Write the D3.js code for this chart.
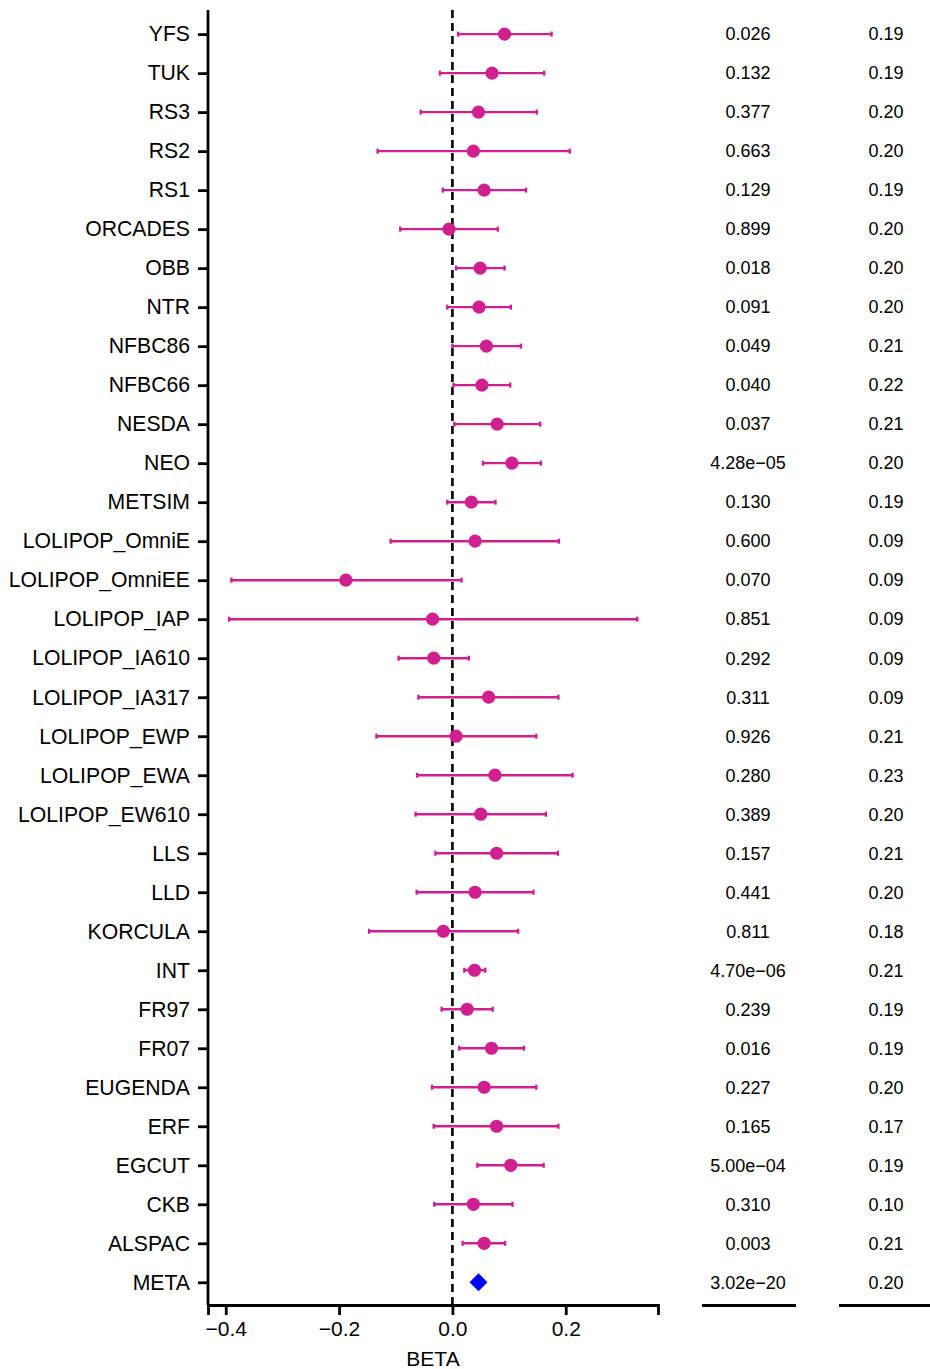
<!DOCTYPE html>
<html>
<head>
<meta charset="utf-8">
<script src="https://cdn.jsdelivr.net/npm/d3@7"></script>
<style>
  html, body { margin: 0; padding: 0; background: #fff; }
  svg { display: block; font-family: "Liberation Sans", Arial, sans-serif; }
</style>
</head>
<body>
<svg id="chart" width="930" height="1369"></svg>
<script>
const studies = ["YFS","TUK","RS3","RS2","RS1","ORCADES","OBB","NTR","NFBC86","NFBC66","NESDA","NEO","METSIM",
  "LOLIPOP_OmniE","LOLIPOP_OmniEE","LOLIPOP_IAP","LOLIPOP_IA610","LOLIPOP_IA317","LOLIPOP_EWP","LOLIPOP_EWA",
  "LOLIPOP_EW610","LLS","LLD","KORCULA","INT","FR97","FR07","EUGENDA","ERF","EGCUT","CKB","ALSPAC","META"];
const beta  = [0.092,0.070,0.046,0.037,0.056,-0.006,0.049,0.047,0.060,0.052,0.079,0.105,0.0335,
  0.040,-0.188,-0.035,-0.033,0.064,0.0065,0.075,
  0.050,0.078,0.040,-0.016,0.039,0.026,0.069,0.056,0.078,0.103,0.037,0.056,0.046];
const lower = [0.010,-0.022,-0.056,-0.132,-0.017,-0.092,0.0065,-0.009,0.000,0.002,0.0035,0.054,-0.009,
  -0.109,-0.390,-0.394,-0.095,-0.060,-0.134,-0.062,
  -0.065,-0.030,-0.063,-0.147,0.021,-0.019,0.012,-0.036,-0.033,0.044,-0.032,0.018,null];
const upper = [0.175,0.162,0.149,0.207,0.130,0.080,0.092,0.103,0.121,0.102,0.155,0.156,0.076,
  0.188,0.016,0.326,0.029,0.187,0.148,0.212,
  0.165,0.186,0.143,0.116,0.058,0.071,0.126,0.148,0.187,0.161,0.106,0.093,null];
const pvals = ["0.026","0.132","0.377","0.663","0.129","0.899","0.018","0.091","0.049","0.040","0.037","4.28e\u221205","0.130",
  "0.600","0.070","0.851","0.292","0.311","0.926","0.280",
  "0.389","0.157","0.441","0.811","4.70e\u221206","0.239","0.016","0.227","0.165","5.00e\u221204","0.310","0.003","3.02e\u221220"];
const col2 = ["0.19","0.19","0.20","0.20","0.19","0.20","0.20","0.20","0.21","0.22","0.21","0.20","0.19",
  "0.09","0.09","0.09","0.09","0.09","0.21","0.23",
  "0.20","0.21","0.20","0.18","0.21","0.19","0.19","0.20","0.17","0.19","0.10","0.21","0.20"];
const xTicks = [-0.4, -0.2, 0.0, 0.2];

(function () {
const rows = studies.map((s, i) => ({ s, b: beta[i], lo: lower[i], hi: upper[i], p: pvals[i], c: col2[i], meta: s === "META" }));

const svg = d3.select("#chart");
const pLeft = 208, pRight = 658, pTop = 10, pBottom = 1305;
const magenta = "#D02090";
const font = "Liberation Sans, Arial, sans-serif";

const x = d3.scaleLinear().domain([-0.4313, 0.3628]).range([pLeft, pRight]);
const y = d3.scalePoint().domain(studies).range([pTop + 0.7, pBottom + 0.7]).padding(0.6);

// x axis
const gx = svg.append("g").attr("transform", `translate(0,${pBottom})`)
  .call(d3.axisBottom(x).tickValues(xTicks).tickFormat(d3.format(".1f")).tickSizeOuter(0).tickSize(10).tickPadding(6));
gx.select(".domain").attr("stroke", "#000").attr("stroke-width", 2.8);
gx.selectAll(".tick line").attr("stroke", "#000").attr("stroke-width", 2.8);
gx.selectAll(".tick text").attr("font-size", 21).attr("fill", "#000").attr("font-family", font);

// y axis
const gy = svg.append("g").attr("transform", `translate(${pLeft},0)`)
  .call(d3.axisLeft(y).tickSizeOuter(0).tickSize(10).tickPadding(8));
gy.select(".domain").attr("d", `M0,${pTop}V${pBottom}`).attr("stroke", "#000").attr("stroke-width", 2.8);
gy.selectAll(".tick line").attr("stroke", "#000").attr("stroke-width", 2.8);
gy.selectAll(".tick text").attr("font-size", 21.2).attr("fill", "#000").attr("font-family", font);

// zero reference line
svg.append("line")
  .attr("x1", x(0)).attr("x2", x(0)).attr("y1", pTop).attr("y2", pBottom)
  .attr("stroke", "#000").attr("stroke-width", 2.6).attr("stroke-dasharray", "8,5");

// error bars
const studyRows = rows.filter(r => !r.meta);
const eb = svg.append("g");
eb.selectAll("line.bar").data(studyRows).join("line").attr("class", "bar")
  .attr("x1", d => x(d.lo)).attr("x2", d => x(d.hi))
  .attr("y1", d => y(d.s)).attr("y2", d => y(d.s))
  .attr("stroke", magenta).attr("stroke-width", 2.4);
eb.selectAll("line.capl").data(studyRows).join("line").attr("class", "capl")
  .attr("x1", d => x(d.lo)).attr("x2", d => x(d.lo))
  .attr("y1", d => y(d.s) - 2.5).attr("y2", d => y(d.s) + 2.5)
  .attr("stroke", magenta).attr("stroke-width", 2.4);
eb.selectAll("line.capr").data(studyRows).join("line").attr("class", "capr")
  .attr("x1", d => x(d.hi)).attr("x2", d => x(d.hi))
  .attr("y1", d => y(d.s) - 2.5).attr("y2", d => y(d.s) + 2.5)
  .attr("stroke", magenta).attr("stroke-width", 2.4);

// points
svg.append("g").selectAll("circle").data(studyRows).join("circle")
  .attr("cx", d => x(d.b)).attr("cy", d => y(d.s)).attr("r", 6.6)
  .attr("fill", magenta);

// meta diamond
const metaRow = rows.find(r => r.meta);
const h = 9;
svg.append("path")
  .attr("d", `M0,${-h}L${h},0L0,${h}L${-h},0Z`)
  .attr("transform", `translate(${x(metaRow.b)},${y(metaRow.s)})`)
  .attr("fill", "#0000FF");

// x label
svg.append("text").attr("x", (pLeft + pRight) / 2).attr("y", 1366)
  .attr("text-anchor", "middle").attr("font-size", 21).attr("fill", "#000").text("BETA");

// right columns
const colP = 748, colC = 886;
svg.append("g").selectAll("text").data(rows).join("text")
  .attr("x", colP).attr("y", d => y(d.s)).attr("dy", "0.35em")
  .attr("text-anchor", "middle").attr("font-size", 18).attr("fill", "#000").text(d => d.p);
svg.append("g").selectAll("text").data(rows).join("text")
  .attr("x", colC).attr("y", d => y(d.s)).attr("dy", "0.35em")
  .attr("text-anchor", "middle").attr("font-size", 18).attr("fill", "#000").text(d => d.c);

svg.append("line").attr("x1", 702).attr("x2", 796).attr("y1", 1305.5).attr("y2", 1305.5)
  .attr("stroke", "#000").attr("stroke-width", 2.8);
svg.append("line").attr("x1", 839).attr("x2", 930).attr("y1", 1305.5).attr("y2", 1305.5)
  .attr("stroke", "#000").attr("stroke-width", 2.8);
})();
</script>
</body>
</html>
